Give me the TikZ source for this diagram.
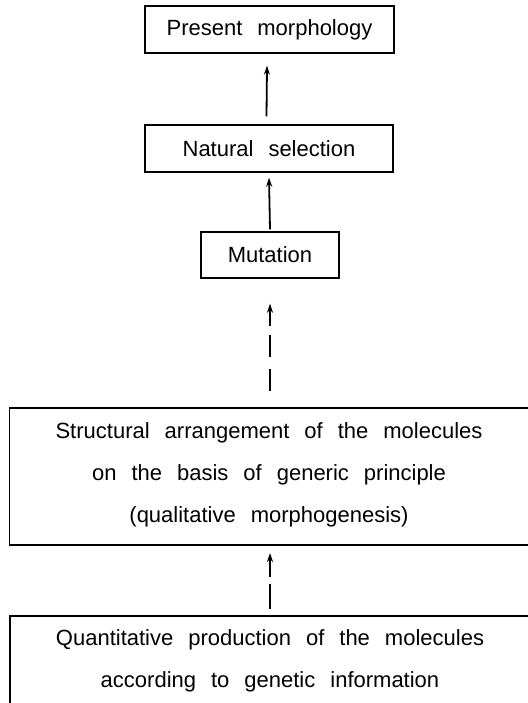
\documentclass[tikz,border=0pt]{standalone}
\usepackage{fontspec}
\setmainfont{Liberation Sans}
\usetikzlibrary{arrows.meta}
\newcommand\myboxfont{\fontsize{22pt}{42pt}\selectfont\spaceskip=15pt\relax}
\begin{document}
\begin{tikzpicture}[x=1pt,y=-1pt,
  box/.style={draw,line width=1.4pt,inner sep=0pt,align=center,font=\myboxfont},
  txt/.style={inner sep=0pt,align=center,font=\myboxfont},
  conn/.style={line width=1.8pt,-{Stealth[length=9pt,width=6pt]}}]
\useasboundingbox (0,0) rectangle (527,703);
\node[box,minimum width=249pt,minimum height=47pt] (pm) at (269.5,29.5) {Present morphology};
\node[box,minimum width=248pt,minimum height=47pt] (ns) at (269,148.5) {Natural selection};
\node[box,minimum width=138pt,minimum height=46pt] (mu) at (270,255) {Mutation};
% big box 1 (extends past right edge)
\draw[line width=1.4pt] (540,408) -- (9.5,408) -- (9.5,545) -- (540,545);
\node[txt] (sa) at (269,475)
  {Structural arrangement of the molecules\\on the basis of generic principle\\(qualitative morphogenesis)};
\coordinate (sat) at (270,408);
\coordinate (sab) at (270,545);
% big box 2 (extends past right and bottom edges)
\draw[line width=1.4pt] (540,616) -- (10,616) -- (10,720);
\node[txt] (qp) at (270,661)
  {Quantitative production of the molecules\\according to genetic information};
\coordinate (qpt) at (270,616);
% connectors
\draw[conn] ([xshift=-2.5pt,yshift=8pt]ns.north) -- ([xshift=-2.5pt,yshift=-12pt]pm.south);
\draw[conn] ([yshift=2pt]mu.north) -- ([yshift=-5pt]ns.south);
\draw[conn,dash pattern=on 22pt off 12pt on 22pt off 9pt on 30pt] ([yshift=17pt]sat) -- ([yshift=-25pt]mu.south);
\draw[conn,dash pattern=on 25pt off 7pt on 30pt] ([yshift=7pt]qpt) -- ([yshift=-8pt]sab);
\end{tikzpicture}
\end{document}
